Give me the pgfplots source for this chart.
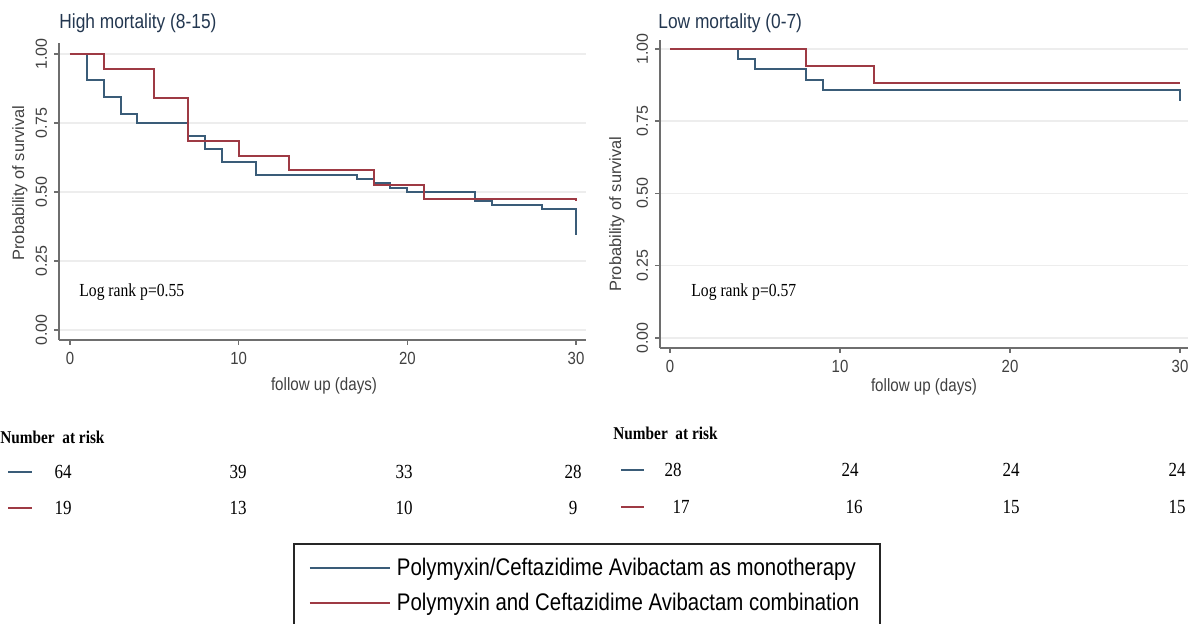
\documentclass[border=0pt]{standalone}
\usepackage{pgfplots}
\pgfplotsset{compat=1.18}
\usepackage{fontspec}
\setmainfont{Liberation Serif}[FakeStretch=0.85]
\newfontfamily\sans{Liberation Sans}[FakeStretch=0.85]
\newfontfamily\sansrot{Liberation Sans}
\definecolor{kmblue}{RGB}{58,92,120}
\definecolor{kmred}{RGB}{158,58,68}
\definecolor{ttl}{RGB}{35,55,80}
\definecolor{axc}{RGB}{110,110,110}
\newcommand{\fs}[1]{\fontsize{#1}{#1}\selectfont}
\pgfplotsset{
  km/.style={
    scale only axis,
    axis x line*=bottom, axis y line*=left,
    axis line style={axc, line width=0.8pt},
    tick style={axc, line width=0.8pt},
    tick align=outside, major tick length=2.5pt,
    xtick={0,10,20,30}, xticklabels={0,10,20,30},
    ytick={0,0.25,0.5,0.75,1}, yticklabels={0.00,0.25,0.50,0.75,1.00},
    xticklabel style={font=\sans\fs{8.8}, text=black!75},
    yticklabel style={font=\sansrot\fs{8}, rotate=90, anchor=south, text=black!75},
    ymajorgrids, grid style={black!7, line width=0.7pt},
    /pgf/number format/assume math mode=true,
  }
}
\begin{document}
\begin{tikzpicture}[x=0.5pt,y=0.5pt]
\useasboundingbox (0,0) rectangle (1193,624);
% left panel
\begin{axis}[km, at={(29.5pt,142pt)}, anchor=south west,
  width=263.5pt, height=148.5pt,
  xmin=-0.65, xmax=30.59, ymin=-0.036, ymax=1.04]
\addplot[kmblue, const plot, line width=1pt] coordinates {(0,1) (1,0.906) (2,0.844) (3,0.781) (4,0.75) (7,0.703) (8,0.656) (9,0.609) (11,0.5625) (17,0.547) (18,0.531) (19,0.516) (20,0.5) (24,0.469) (25,0.453) (28,0.4375) (30,0.4375) (30,0.344)};
\addplot[kmred, const plot, line width=1pt] coordinates {(0,1) (2,0.947) (5,0.842) (7,0.684) (10,0.632) (13,0.579) (18,0.526) (21,0.474) (30,0.474) (30,0.468)};
\end{axis}
% right panel
\begin{axis}[km, at={(330pt,138pt)}, anchor=south west,
  width=264pt, height=154pt,
  xmin=-0.59, xmax=30.47, ymin=-0.035, ymax=1.031,
  legend style={at={(axis description cs:-0.695,-0.633)}, anchor=north west,
    draw=black!85, line width=0.9pt, font=\sans\fs{12},
    inner xsep=7.5pt, inner ysep=5pt, row sep=3.5pt,
    nodes={inner xsep=3pt, inner ysep=2pt}},
  legend cell align=left,
  legend image code/.code={\draw[#1, line width=1pt] (0pt,0pt) -- (40pt,0pt);}]
\addplot[kmblue, const plot, line width=1pt] coordinates {(0,1) (4,0.964) (5,0.929) (8,0.893) (9,0.857) (30,0.857) (30,0.821)};
\addlegendentry{Polymyxin/Ceftazidime Avibactam as monotherapy\hspace{14pt}}
\addplot[kmred, const plot, line width=1pt] coordinates {(0,1) (8,0.941) (12,0.882) (30,0.882)};
\addlegendentry{Polymyxin and Ceftazidime Avibactam combination}
\end{axis}
% titles
\node[anchor=west, text=ttl, font=\sans\fs{10.2}, inner sep=0] at (59,601) {High mortality (8-15)};
\node[anchor=west, text=ttl, font=\sans\fs{10.2}, inner sep=0] at (658,601) {Low mortality (0-7)};
% y labels
\node[rotate=90, font=\sansrot\fs{8.2}, text=black!75, inner sep=0] at (20,441) {Probability of survival};
\node[rotate=90, font=\sansrot\fs{8.2}, text=black!75, inner sep=0] at (617,410) {Probability of survival};
% x labels
\node[font=\sans\fs{8.9}, text=black!75, inner sep=0] at (324,238) {follow up (days)};
\node[font=\sans\fs{8.9}, text=black!75, inner sep=0] at (924,237) {follow up (days)};
% log rank
\node[anchor=west, font=\fs{9.2}, inner sep=0] at (79,332) {Log rank p=0.55};
\node[anchor=west, font=\fs{9.2}, inner sep=0] at (691,332) {Log rank p=0.57};
% number at risk
\node[anchor=west, font=\bfseries\fs{9}, inner sep=0] at (0,187) {Number\ \ at risk};
\node[anchor=west, font=\bfseries\fs{9}, inner sep=0] at (613,191) {Number\ \ at risk};
\draw[kmblue, line width=1.2pt] (8,152) -- (32,152);
\draw[kmred, line width=1.2pt] (8,116) -- (32,116);
\draw[kmblue, line width=1.2pt] (621,154) -- (644,154);
\draw[kmred, line width=1.2pt] (621,117) -- (644,117);
\foreach \x/\n in {63/64, 238/39, 404/33, 573/28} \node[font=\fs{10}] at (\x,152) {\n};
\foreach \x/\n in {63/19, 238/13, 404/10, 573/9} \node[font=\fs{10}] at (\x,116) {\n};
\foreach \x/\n in {673/28, 850/24, 1011/24, 1177/24} \node[font=\fs{10}] at (\x,154) {\n};
\foreach \x/\n in {681/17, 854/16, 1011/15, 1177/15} \node[font=\fs{10}] at (\x,117) {\n};
\end{tikzpicture}
\end{document}
